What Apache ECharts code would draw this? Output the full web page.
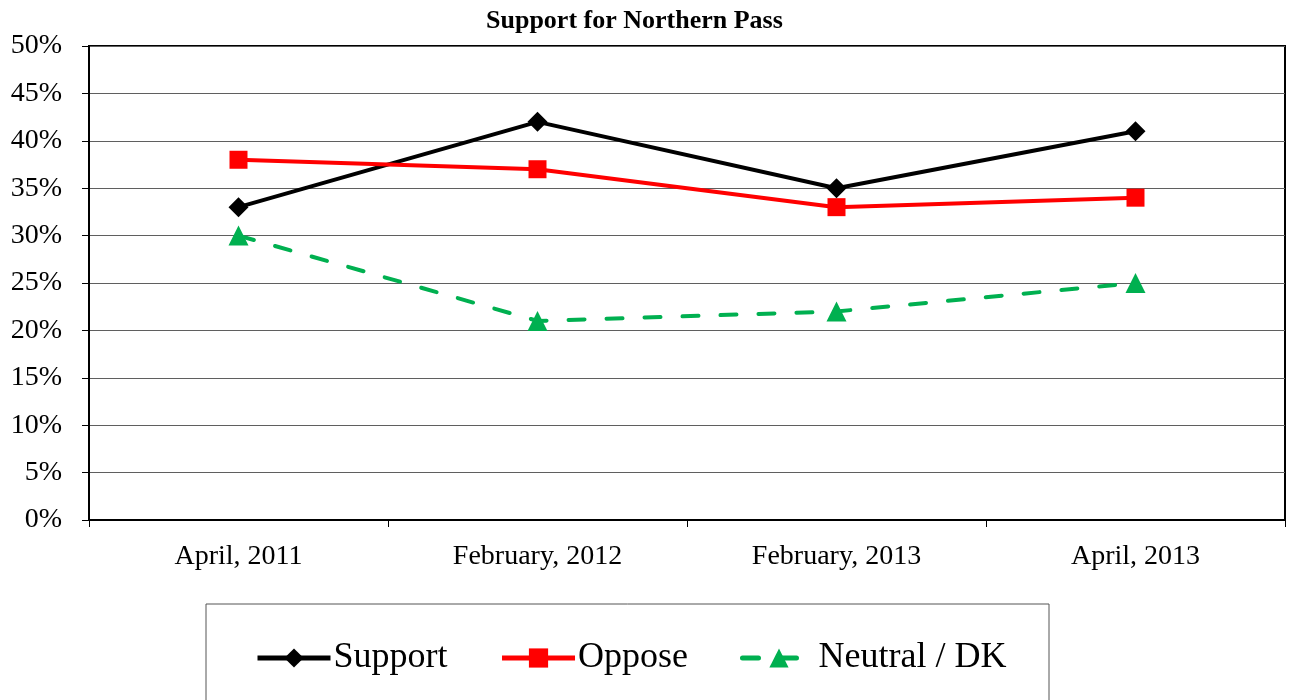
<!DOCTYPE html>
<html>
<head>
<meta charset="utf-8">
<script src="https://cdn.jsdelivr.net/npm/echarts@6/dist/echarts.min.js"></script>
<style>
  html, body { margin: 0; padding: 0; background: #fff; }
  #chart { width: 1290px; height: 700px; }
</style>
</head>
<body>
<div id="chart"></div>
<script>
var categories = ['April, 2011', 'February, 2012', 'February, 2013', 'April, 2013'];
var supportData = [33, 42, 35, 41];
var opposeData = [38, 37, 33, 34];
var neutralData = [30, 21, 22, 25];

var chart = echarts.init(document.getElementById('chart'));
var font = '"Liberation Serif", "Times New Roman", serif';

var option = {
  backgroundColor: '#fff',
  animation: false,
  title: {
    text: 'Support for Northern Pass',
    left: 486,
    top: 8,
    padding: 0,
    textStyle: { fontFamily: font, fontSize: 26, fontWeight: 'bold', color: '#000' }
  },
  grid: {
    left: 89, right: 5, top: 46, bottom: 180,
    show: true, borderColor: '#000', borderWidth: 2
  },
  graphic: [{
    type: 'rect',
    shape: { x: 206, y: 604, width: 843, height: 130 },
    style: { fill: 'none', stroke: '#555', lineWidth: 1 },
    silent: true
  }],
  legend: {
    left: 255,
    top: 640,
    padding: 0,
    itemWidth: 73,
    itemHeight: 24,
    itemGap: 52,
    lineStyle: { width: 5 },
    textStyle: { fontFamily: font, fontSize: 36, color: '#000', padding: [0, 0, 0, -2] },
    data: ['Support', 'Oppose', 'Neutral / DK']
  },
  xAxis: {
    type: 'category',
    data: categories,
    boundaryGap: true,
    axisLine: { lineStyle: { color: '#000', width: 2 } },
    axisTick: { show: true, length: 7, inside: false, lineStyle: { color: '#000', width: 1 } },
    axisLabel: { fontFamily: font, fontSize: 28, color: '#000', margin: 23 },
    splitLine: { show: false }
  },
  yAxis: {
    type: 'value',
    min: 0, max: 50, interval: 5,
    axisLine: { show: true, lineStyle: { color: '#000', width: 2 } },
    axisTick: { show: true, length: 7, lineStyle: { color: '#000', width: 1 } },
    axisLabel: { fontFamily: font, fontSize: 28, color: '#000', margin: 27, formatter: '{value}%' },
    splitLine: { show: true, lineStyle: { color: '#5f5f5f', width: 1 } }
  },
  series: [
    {
      name: 'Support', type: 'line', data: supportData,
      symbol: 'diamond', symbolSize: 20,
      itemStyle: { color: '#000' },
      lineStyle: { color: '#000', width: 4 }
    },
    {
      name: 'Oppose', type: 'line', data: opposeData,
      symbol: 'rect', symbolSize: 18,
      itemStyle: { color: '#ff0000' },
      lineStyle: { color: '#ff0000', width: 4 }
    },
    {
      name: 'Neutral / DK', type: 'line', data: neutralData,
      symbol: 'triangle', symbolSize: 20,
      itemStyle: { color: '#00b050' },
      lineStyle: { color: '#00b050', width: 4, type: [16, 22], cap: 'round' }
    }
  ]
};
chart.setOption(option);
</script>
</body>
</html>
